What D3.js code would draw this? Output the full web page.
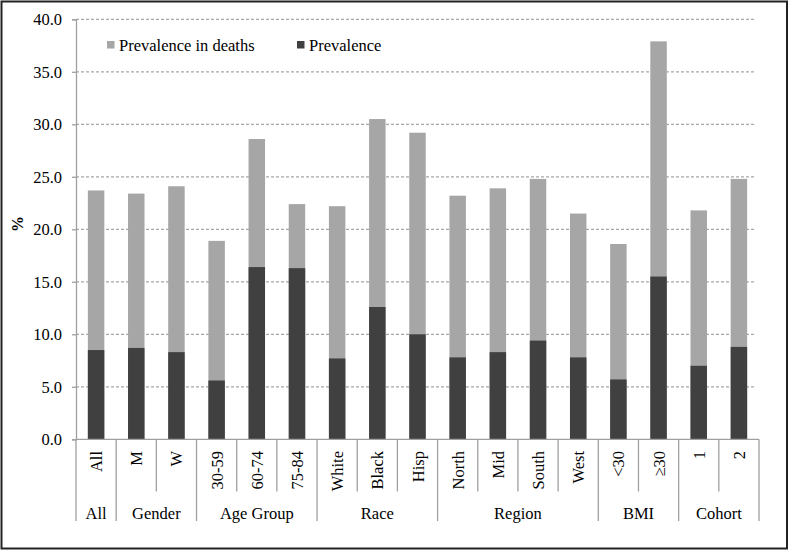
<!DOCTYPE html>
<html><head><meta charset="utf-8">
<script src="https://cdn.jsdelivr.net/npm/d3@7"></script>
<style>body{margin:0;background:#fff}svg{display:block}</style>
</head><body>
<script>
const categories = ["All","M","W","30-59","60-74","75-84","White","Black","Hisp","North","Mid","South","West","<30","\u226530","1","2"];
const groups = ["All","Gender","Age Group","Race","Region","BMI","Cohort"];
const groupSizes = [1,2,3,3,4,2,2];
const prevalenceDeaths = [23.7,23.4,24.1,18.9,28.6,22.4,22.2,30.5,29.2,23.2,23.9,24.8,21.5,18.6,37.9,21.8,24.8];
const prevalence = [8.5,8.7,8.3,5.6,16.4,16.3,7.7,12.6,10.0,7.8,8.3,9.4,7.8,5.7,15.5,7.0,8.8];
const yTicks = [0,5,10,15,20,25,30,35,40];

(function(){
const FONT = "'Liberation Serif', 'Times New Roman', Tinos, 'DejaVu Serif', serif";
const FS = "16.5px";
const W = 790, H = 552;
const svg = d3.select("body").append("svg").attr("width", W).attr("height", H)
  .style("font-family", FONT);
svg.append("rect").attr("x",1.5).attr("y",1.5).attr("width",785.5).attr("height",547)
  .attr("fill","#fff").attr("stroke","#222").attr("stroke-width",2);

const pLeft = 76, pRight = 759, pTop = 19.3, pBottom = 439.3;
const x = d3.scaleBand().domain(categories).range([pLeft, pRight]).paddingInner(0).paddingOuter(0);
const y = d3.scaleLinear().domain([0,40]).range([pBottom, pTop]);
const bw = x.bandwidth()*0.41;

// gridlines
svg.append("g").selectAll("line").data(yTicks.filter(d=>d>0)).join("line")
  .attr("x1", pLeft).attr("x2", 756).attr("y1", d=>y(d)).attr("y2", d=>y(d))
  .attr("stroke","#a8a8a8").attr("stroke-width",1.3).attr("stroke-dasharray","3,2");

// y axis
const yAxis = d3.axisLeft(y).tickValues(yTicks).tickFormat(d3.format(".1f")).tickSize(4).tickPadding(10);
const gy = svg.append("g").attr("transform",`translate(${pLeft},0)`).call(yAxis);
gy.attr("font-family", null).attr("font-size", null);
gy.select(".domain").attr("stroke","#a0a0a0").attr("stroke-width",1.3);
gy.selectAll(".tick line").attr("stroke","#a0a0a0").attr("stroke-width",1.3);
gy.selectAll(".tick text").style("font-family",FONT).style("font-size",FS).attr("fill","#000");

svg.append("text").attr("transform",`translate(23,224) rotate(-90)`).attr("text-anchor","middle")
  .style("font-family",FONT).style("font-size","16px").attr("font-weight","bold").attr("fill","#000").text("%");

// bars
svg.append("g").selectAll("rect").data(categories).join("rect")
  .attr("x", d=>x(d)+x.bandwidth()/2-bw/2).attr("width", bw)
  .attr("y", (d,i)=>y(prevalenceDeaths[i])).attr("height",(d,i)=>y(0)-y(prevalenceDeaths[i]))
  .attr("fill","#a6a6a6");
svg.append("g").selectAll("rect").data(categories).join("rect")
  .attr("x", d=>x(d)+x.bandwidth()/2-bw/2).attr("width", bw)
  .attr("y", (d,i)=>y(prevalence[i])).attr("height",(d,i)=>y(0)-y(prevalence[i]))
  .attr("fill","#404040");

// x axis line
svg.append("line").attr("x1",pLeft).attr("x2",pRight).attr("y1",pBottom).attr("y2",pBottom)
  .attr("stroke","#a0a0a0").attr("stroke-width",1.3);

// dividers
const groupStarts = [];
let acc = 0;
groupSizes.forEach(s=>{groupStarts.push(acc); acc+=s;});
const step = x.step();
for (let i=0;i<=categories.length;i++){
  const isGroup = groupStarts.includes(i) || i===categories.length;
  const xx = pLeft + i*step;
  svg.append("line").attr("x1",xx).attr("x2",xx).attr("y1",pBottom).attr("y2", isGroup?521:491.5)
    .attr("stroke","#a0a0a0").attr("stroke-width",1.3);
}

// category labels
svg.append("g").selectAll("text").data(categories).join("text")
  .attr("transform", d=>`translate(${x(d)+x.bandwidth()/2+6},451) rotate(-90)`)
  .attr("text-anchor","end").style("font-family",FONT).style("font-size",FS).attr("fill","#000").text(d=>d);

// group labels
svg.append("g").selectAll("text").data(groups).join("text")
  .attr("x",(d,i)=>pLeft+(groupStarts[i]+groupSizes[i]/2)*step).attr("y",519)
  .attr("text-anchor","middle").style("font-family",FONT).style("font-size",FS).attr("fill","#000").text(d=>d);

// legend
const legend = [{label:"Prevalence in deaths", color:"#a6a6a6", x:107},{label:"Prevalence", color:"#404040", x:297}];
const lg = svg.append("g").selectAll("g").data(legend).join("g").attr("transform",d=>`translate(${d.x},41)`);
lg.append("rect").attr("width",7.5).attr("height",7.5).attr("fill",d=>d.color);
lg.append("text").attr("x",12).attr("y",9.5).style("font-family",FONT).style("font-size",FS).attr("fill","#000").text(d=>d.label);
})();
</script>
</body></html>
